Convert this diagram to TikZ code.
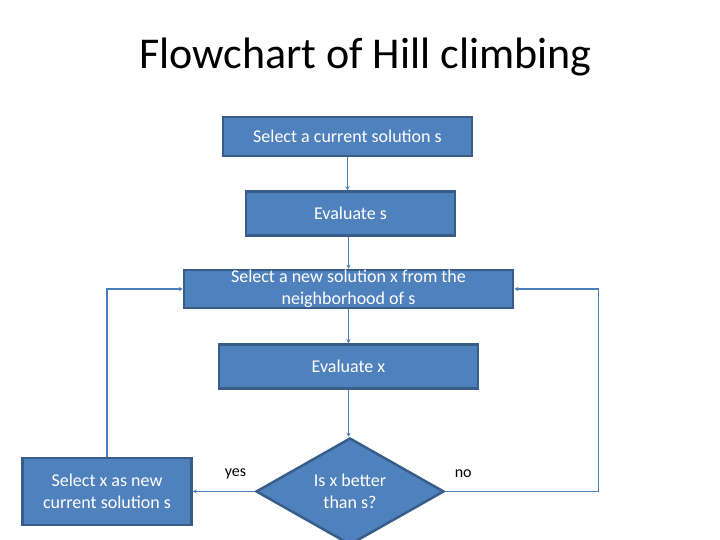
\documentclass[tikz,border=0pt]{standalone}
\usepackage{fontspec}
\setmainfont{Carlito}
\usetikzlibrary{shapes.geometric, arrows.meta, positioning}
\definecolor{boxfill}{HTML}{4F81BD}
\definecolor{boxline}{HTML}{385D8A}
\definecolor{linkline}{HTML}{4A7EBB}

\begin{document}
\begin{tikzpicture}[
  x=1pt, y=-1pt,
  font=\fontsize{18}{22}\selectfont,
  >={Stealth[length=4pt, width=4pt]},
  process/.style={
    rectangle, draw=boxline, line width=2.5pt, fill=boxfill,
    text=white, align=center, inner sep=0pt
  },
  decision/.style={
    diamond, draw=boxline, line width=2.5pt, fill=boxfill,
    text=white, align=center, inner sep=0pt,
    minimum width=188pt, minimum height=100pt
  },
  flow/.style={->, line width=1.4pt, color=linkline},
  answer/.style={font=\fontsize{16}{19}\selectfont, text=black}
]

\useasboundingbox (0,0) rectangle (720,540);

% Title
\node[anchor=base, font=\fontsize{44}{52}\selectfont] (title) at (365.5,69) {Flowchart of Hill climbing};

% Main chain
\node[process, minimum width=249pt, minimum height=39pt] (pick) at (347.5,136.5) {Select a current solution s};
\node[process, minimum width=209pt, minimum height=44pt, below=33pt of pick, xshift=3pt] (evals) {Evaluate s};
\node[process, minimum width=329pt, minimum height=38pt, below=32pt of evals, xshift=-2pt] (nbr) {Select a new solution x from the\\neighborhood of s};
\node[process, minimum width=259pt, minimum height=44pt, below=34pt of nbr] (evalx) {Evaluate x};
\node[decision, below=47pt of evalx, xshift=1.5pt] (test) {Is x better\\than s?};
\node[process, minimum width=169pt, minimum height=67pt, left=62pt of test] (accept) {Select x as new\\current solution s};

% Flow arrows
\draw[flow] (pick.south) -- (pick.south |- evals.north);
\draw[flow] (nbr.north |- evals.south) -- (nbr.north);
\draw[flow] (nbr.south) -- (nbr.south |- evalx.north);
\draw[flow] (evalx.south) -- (evalx.south |- test.north);

% Decision branches
\draw[flow] (test.west) -- (accept.east) node[answer, pos=0.31, yshift=18pt] {yes};
\draw[flow] (test.east) -| ([xshift=84pt]nbr.east) -- (nbr.east);
\node[answer, above right=10pt and 6pt of test.east] (nolbl) {no};

% Loop back
\draw[flow] (accept.north) |- (nbr.west);

\end{tikzpicture}
\end{document}
